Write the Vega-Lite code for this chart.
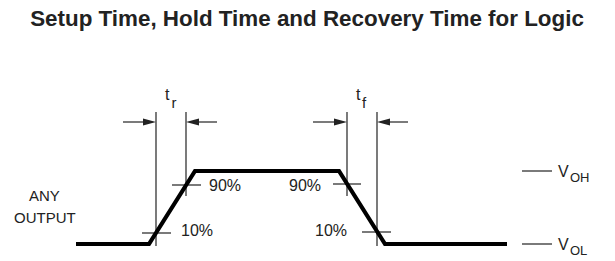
{
  "$schema": "https://vega.github.io/schema/vega-lite/v6.json",
  "width": 615,
  "height": 261,
  "autosize": {"type": "fit", "contains": "padding"},
  "padding": 0,
  "background": "white",
  "config": {"view": {"stroke": null}},
  "datasets": {
    "wave": [
      {"x": 76, "y": 244, "o": 1},
      {"x": 149, "y": 244, "o": 2},
      {"x": 195, "y": 171, "o": 3},
      {"x": 339, "y": 171, "o": 4},
      {"x": 385, "y": 244, "o": 5},
      {"x": 507, "y": 244, "o": 6}
    ],
    "segs": [
      {"x": 156, "y": 112, "x2": 156, "y2": 246},
      {"x": 186, "y": 112, "x2": 186, "y2": 196},
      {"x": 347, "y": 112, "x2": 347, "y2": 196},
      {"x": 377, "y": 112, "x2": 377, "y2": 246},
      {"x": 142, "y": 233, "x2": 171, "y2": 233},
      {"x": 172, "y": 185, "x2": 201, "y2": 185},
      {"x": 333, "y": 184, "x2": 361, "y2": 184},
      {"x": 362, "y": 232, "x2": 391, "y2": 232},
      {"x": 123, "y": 122, "x2": 150, "y2": 122},
      {"x": 192, "y": 122, "x2": 217, "y2": 122},
      {"x": 313, "y": 122, "x2": 341, "y2": 122},
      {"x": 383, "y": 122, "x2": 408, "y2": 122},
      {"x": 522, "y": 171, "x2": 552, "y2": 171},
      {"x": 522, "y": 244, "x2": 552, "y2": 244}
    ],
    "arrows": [
      {"x": 156, "y": 122, "dir": "right"},
      {"x": 186, "y": 122, "dir": "left"},
      {"x": 347, "y": 122, "dir": "right"},
      {"x": 377, "y": 122, "dir": "left"}
    ],
    "labels": [
      {"t": "ANY", "x": 29, "y": 196, "s": 15},
      {"t": "OUTPUT", "x": 14, "y": 218, "s": 15},
      {"t": "90%", "x": 209, "y": 186, "s": 16},
      {"t": "90%", "x": 289, "y": 186, "s": 16},
      {"t": "10%", "x": 181, "y": 231, "s": 16},
      {"t": "10%", "x": 315, "y": 231, "s": 16},
      {"t": "t", "x": 165, "y": 95, "s": 16},
      {"t": "r", "x": 171.5, "y": 103, "s": 15},
      {"t": "t", "x": 356, "y": 95, "s": 16},
      {"t": "f", "x": 362, "y": 103, "s": 15},
      {"t": "V", "x": 558, "y": 172, "s": 16},
      {"t": "OH", "x": 570, "y": 178, "s": 13},
      {"t": "V", "x": 558, "y": 245, "s": 16},
      {"t": "OL", "x": 570, "y": 251, "s": 13}
    ],
    "title": [
      {"t": "Setup Time, Hold Time and Recovery Time for Logic", "x": 307, "y": 25.5}
    ]
  },
  "encoding": {
    "x": {"field": "x", "type": "quantitative", "scale": {"domain": [0, 615], "nice": false, "zero": false}, "axis": null},
    "y": {"field": "y", "type": "quantitative", "scale": {"domain": [0, 261], "nice": false, "zero": false, "reverse": true}, "axis": null}
  },
  "layer": [
    {
      "data": {"name": "segs"},
      "mark": {"type": "rule", "color": "#222222", "strokeWidth": 1.2},
      "encoding": {"x2": {"field": "x2"}, "y2": {"field": "y2"}}
    },
    {
      "data": {"name": "arrows"},
      "mark": {"type": "point", "filled": true, "color": "#222222", "opacity": 1, "size": 169},
      "encoding": {
        "shape": {"field": "dir", "type": "nominal", "scale": {"domain": ["right", "left"], "range": ["M0,0L-2,-0.54L-2,0.54Z", "M0,0L2,-0.54L2,0.54Z"]}, "legend": null}
      }
    },
    {
      "data": {"name": "wave"},
      "mark": {"type": "line", "color": "#000000", "strokeWidth": 4.2, "strokeJoin": "miter", "strokeCap": "butt"},
      "encoding": {"order": {"field": "o", "type": "quantitative"}}
    },
    {
      "data": {"name": "labels"},
      "mark": {"type": "text", "align": "left", "baseline": "middle", "font": "Liberation Sans", "color": "#222222"},
      "encoding": {
        "text": {"field": "t"},
        "size": {"field": "s", "type": "quantitative", "scale": null}
      }
    },
    {
      "data": {"name": "title"},
      "mark": {"type": "text", "align": "center", "baseline": "alphabetic", "font": "Liberation Sans", "fontWeight": "bold", "fontSize": 22.4, "color": "#222222"},
      "encoding": {"text": {"field": "t"}}
    }
  ]
}
